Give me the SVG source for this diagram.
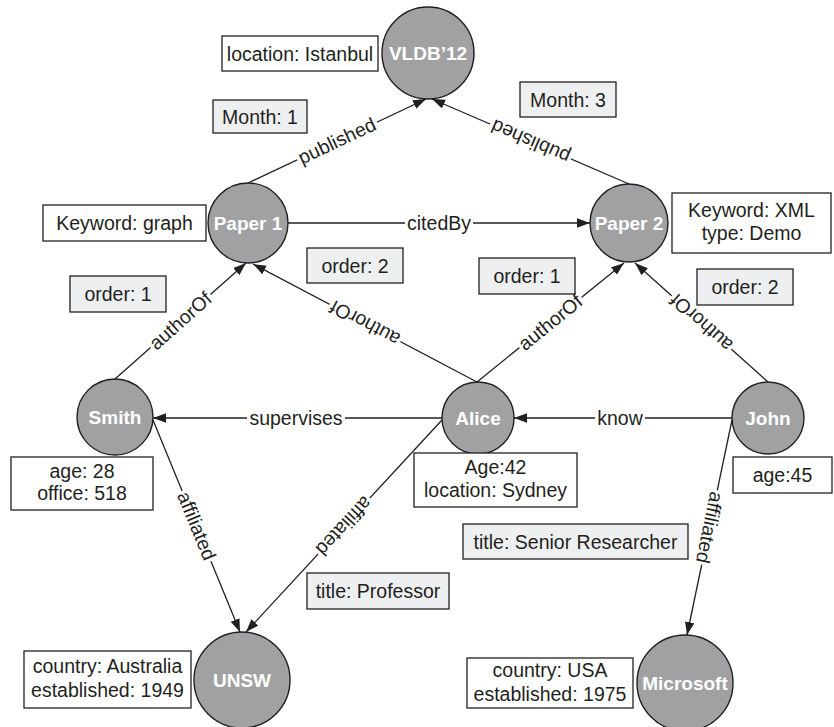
<svg xmlns="http://www.w3.org/2000/svg" width="834" height="727" viewBox="0 0 834 727">
<defs>
<marker id="arr" markerUnits="userSpaceOnUse" markerWidth="13" markerHeight="10" refX="13" refY="4.75" orient="auto">
<path d="M0,0 L13,4.75 L0,9.5 z" fill="#231f20"/>
</marker>
<style>
.edge{stroke:#231f20;stroke-width:1.3;fill:none;marker-end:url(#arr)}
.bg{fill:#ffffff}
.el{font-family:"Liberation Sans",Arial,sans-serif;font-size:19.5px;fill:#231f20;text-anchor:middle}
.node{fill:#a1a1a4;stroke:#231f20;stroke-width:1.4}
.nl{font-family:"Liberation Sans",Arial,sans-serif;font-size:19px;font-weight:bold;fill:#ffffff;text-anchor:middle}
.pw{fill:#ffffff;stroke:#231f20;stroke-width:1.3}
.pg{fill:#eeeff1;stroke:#231f20;stroke-width:1.3}
.pt{font-family:"Liberation Sans",Arial,sans-serif;font-size:19.5px;fill:#231f20;text-anchor:middle}
</style>
</defs>
<rect width="834" height="727" fill="#ffffff"/>

<g id="connectors">
<line class="edge" x1="248" y1="183" x2="426" y2="99"/>
<line class="edge" x1="629" y1="184" x2="432" y2="99"/>
<line class="edge" x1="288" y1="223" x2="590" y2="223"/>
<line class="edge" x1="115" y1="379" x2="246" y2="263"/>
<line class="edge" x1="477" y1="382" x2="253" y2="264"/>
<line class="edge" x1="477" y1="382" x2="624" y2="263"/>
<line class="edge" x1="768" y1="382" x2="635" y2="263"/>
<line class="edge" x1="442" y1="418" x2="153" y2="418"/>
<line class="edge" x1="732" y1="418" x2="514" y2="418"/>
<line class="edge" x1="153" y1="420" x2="240" y2="632"/>
<line class="edge" x1="442" y1="420" x2="246" y2="632"/>
<line class="edge" x1="732" y1="420" x2="687" y2="635"/>

<g transform="translate(337,141) rotate(-25.26)"><rect class="bg" x="-44" y="-4" width="88" height="8"/><text class="el" x="0" y="6.5">published</text></g>
<g transform="translate(530.5,141.5) rotate(-156.66)"><rect class="bg" x="-44" y="-4" width="88" height="8"/><text class="el" x="0" y="6.5">published</text></g>
<g transform="translate(439,223)"><rect class="bg" x="-34" y="-4" width="68" height="8"/><text class="el" x="0" y="6.5">citedBy</text></g>
<g transform="translate(180.5,321) rotate(-41.53)"><rect class="bg" x="-40" y="-4" width="80" height="8"/><text class="el" x="0" y="6.5">authorOf</text></g>
<g transform="translate(365,323) rotate(-152.22)"><rect class="bg" x="-40" y="-4" width="80" height="8"/><text class="el" x="0" y="6.5">authorOf</text></g>
<g transform="translate(550.5,322.5) rotate(-38.99)"><rect class="bg" x="-40" y="-4" width="80" height="8"/><text class="el" x="0" y="6.5">authorOf</text></g>
<g transform="translate(701.5,322.5) rotate(-138.18)"><rect class="bg" x="-40" y="-4" width="80" height="8"/><text class="el" x="0" y="6.5">authorOf</text></g>
<g transform="translate(296,418)"><rect class="bg" x="-49" y="-4" width="98" height="8"/><text class="el" x="0" y="6.5">supervises</text></g>
<g transform="translate(620,418)"><rect class="bg" x="-25" y="-4" width="50" height="8"/><text class="el" x="0" y="6.5">know</text></g>
<g transform="translate(196.5,526) rotate(67.69)"><rect class="bg" x="-38" y="-4" width="76" height="8"/><text class="el" x="0" y="6.5">affiliated</text></g>
<g transform="translate(344,526) rotate(132.76)"><rect class="bg" x="-38" y="-4" width="76" height="8"/><text class="el" x="0" y="6.5">affiliated</text></g>
<g transform="translate(709.5,527.5) rotate(101.82)"><rect class="bg" x="-38" y="-4" width="76" height="8"/><text class="el" x="0" y="6.5">affiliated</text></g>
</g>

<g id="vldb"><circle class="node" cx="428" cy="53" r="46"/><text class="nl" x="428" y="60">VLDB’12</text></g>
<g id="paper1"><circle class="node" cx="248" cy="223" r="40"/><text class="nl" x="248" y="230">Paper 1</text></g>
<g id="paper2"><circle class="node" cx="629" cy="223" r="39"/><text class="nl" x="629" y="230">Paper 2</text></g>
<g id="smith"><circle class="node" cx="115" cy="417" r="38"/><text class="nl" x="115" y="424">Smith</text></g>
<g id="alice"><circle class="node" cx="478" cy="418" r="36"/><text class="nl" x="478" y="425">Alice</text></g>
<g id="john"><circle class="node" cx="768" cy="418" r="36"/><text class="nl" x="768" y="425">John</text></g>
<g id="unsw"><circle class="node" cx="242" cy="680" r="48"/><text class="nl" x="242" y="687">UNSW</text></g>
<g id="microsoft"><circle class="node" cx="685" cy="683" r="48"/><text class="nl" x="685" y="690">Microsoft</text></g>

<g id="prop-vldb"><rect class="pw" x="222" y="36" width="156" height="35"/><text class="pt" x="300" y="60.5">location: Istanbul</text></g>
<g id="prop-month1"><rect class="pg" x="213" y="100" width="94" height="33"/><text class="pt" x="260" y="123.5">Month: 1</text></g>
<g id="prop-month3"><rect class="pg" x="520" y="82" width="96" height="35"/><text class="pt" x="568" y="106.5">Month: 3</text></g>
<g id="prop-paper1"><rect class="pw" x="43" y="205" width="163" height="36"/><text class="pt" x="124.5" y="230">Keyword: graph</text></g>
<g id="prop-paper2"><rect class="pw" x="672" y="193" width="159" height="60"/><text class="pt" x="751.5" y="217">Keyword: XML</text><text class="pt" x="751.5" y="240">type: Demo</text></g>
<g id="prop-order1a"><rect class="pg" x="70" y="276" width="96" height="36"/><text class="pt" x="118" y="301">order: 1</text></g>
<g id="prop-order2a"><rect class="pg" x="307" y="248" width="96" height="35"/><text class="pt" x="355" y="272.5">order: 2</text></g>
<g id="prop-order1b"><rect class="pg" x="479" y="258" width="96" height="36"/><text class="pt" x="527" y="283">order: 1</text></g>
<g id="prop-order2b"><rect class="pg" x="697" y="269" width="96" height="36"/><text class="pt" x="745" y="294">order: 2</text></g>
<g id="prop-smith"><rect class="pw" x="11" y="457" width="142" height="53"/><text class="pt" x="82" y="478">age: 28</text><text class="pt" x="82" y="500">office: 518</text></g>
<g id="prop-alice"><rect class="pw" x="414" y="453" width="163" height="54"/><text class="pt" x="495.5" y="474">Age:42</text><text class="pt" x="495.5" y="497">location: Sydney</text></g>
<g id="prop-john"><rect class="pw" x="733" y="457" width="99" height="36"/><text class="pt" x="782.5" y="482">age:45</text></g>
<g id="prop-senior"><rect class="pg" x="463" y="524" width="225" height="35"/><text class="pt" x="575.5" y="548.5">title: Senior Researcher</text></g>
<g id="prop-professor"><rect class="pg" x="307" y="573" width="142" height="36"/><text class="pt" x="378" y="598">title: Professor</text></g>
<g id="prop-unsw"><rect class="pw" x="24" y="651" width="167" height="57"/><text class="pt" x="107.5" y="673">country: Australia</text><text class="pt" x="107.5" y="697">established: 1949</text></g>
<g id="prop-microsoft"><rect class="pw" x="467" y="658" width="166" height="50"/><text class="pt" x="550" y="677">country: USA</text><text class="pt" x="550" y="701">established: 1975</text></g>
</svg>
